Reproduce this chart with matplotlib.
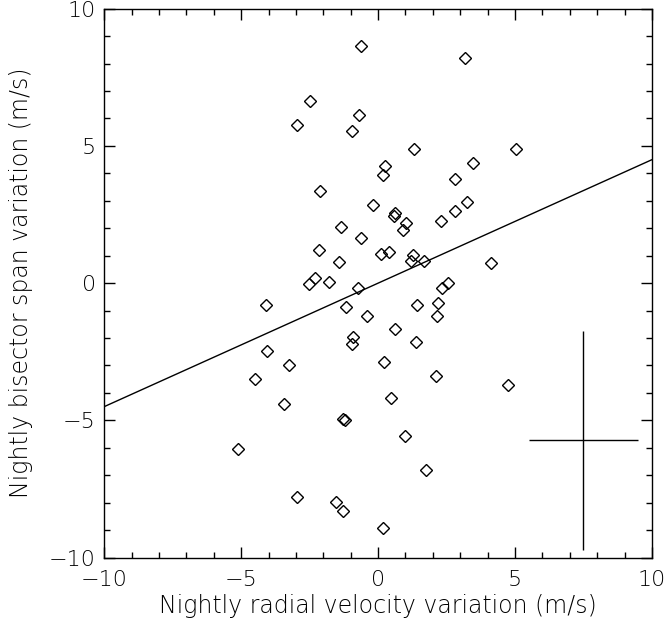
import numpy as np
import matplotlib.pyplot as plt

# nightly variations (m/s)
rv = np.array([-0.63, 3.18, -2.48, -0.68, -2.97, -0.96, 1.31, 5.04, 3.45, 0.26,
               0.19, 2.81, -2.12, 3.26, -0.19, 2.82, 0.63, 0.58, 2.29, 1.01,
               -1.36, 0.92, -0.61, -2.14, 0.41, 0.11, 1.27, 1.19, 1.69, -1.43,
               4.12, -2.32, -1.81, -2.54, 2.54, 2.35, -0.72, -4.10, 2.20, 1.43,
               -1.18, -0.39, 2.16, 0.63, -0.90, 1.39, -0.96, -4.04, 0.22, -3.24,
               2.12, -4.50, 4.76, 0.47, -3.45, -1.27, -1.22, 0.97, -5.11, 1.74,
               -2.97, -1.54, -1.29, 0.19])
bis = np.array([8.65, 8.22, 6.64, 6.13, 5.76, 5.55, 4.89, 4.89, 4.37, 4.28,
                3.95, 3.78, 3.36, 2.96, 2.85, 2.62, 2.54, 2.45, 2.27, 2.20,
                2.06, 1.93, 1.63, 1.20, 1.14, 1.08, 1.01, 0.81, 0.80, 0.77,
                0.74, 0.17, 0.05, -0.04, -0.01, -0.16, -0.16, -0.78, -0.74, -0.80,
                -0.86, -1.18, -1.20, -1.67, -1.96, -2.13, -2.20, -2.48, -2.87, -2.99,
                -3.39, -3.48, -3.71, -4.17, -4.39, -4.96, -4.97, -5.57, -6.03, -6.81,
                -7.81, -7.96, -8.32, -8.94])

slope = 0.45
fit_x = np.array([-10, 10])

# typical error bar
err_x, err_y = 7.5, -5.73
err_dx, err_dy = 2.0, 4.0

plt.rcParams['font.weight'] = 'light'
plt.rcParams['axes.labelweight'] = 'light'

fig = plt.figure(figsize=(6.68, 6.23), dpi=100)
ax = fig.add_axes([0.156, 0.105, 0.82, 0.881])

ax.plot(rv, bis, 'D', ms=6.4, mfc='none', mec='black', mew=1.0, ls='none')
ax.plot(fit_x, slope * fit_x, color='black', lw=1.0)
ax.errorbar(err_x, err_y, xerr=err_dx, yerr=err_dy, fmt='none', ecolor='black',
            elinewidth=1.0, capsize=0)

ax.set_xlim(-10, 10)
ax.set_ylim(-10, 10)
ax.set_xticks([-10, -5, 0, 5, 10])
ax.set_yticks([-10, -5, 0, 5, 10])
ax.set_xticks(np.arange(-10, 11, 1), minor=True)
ax.set_yticks(np.arange(-10, 11, 1), minor=True)
ax.tick_params(which='both', direction='in', top=True, right=True, width=1.0,
               labelsize=16, colors='black')
ax.tick_params(axis='x', pad=9)
ax.tick_params(axis='y', pad=6)
ax.tick_params(which='major', length=8)
ax.tick_params(which='minor', length=4.5)
for s in ax.spines.values():
    s.set_linewidth(1.0)

ax.set_xlabel('Nightly radial velocity variation (m/s)', fontsize=17)
ax.set_ylabel('Nightly bisector span variation (m/s)', fontsize=17)
ax.xaxis.set_label_coords(0.5, -0.066)
ax.yaxis.set_label_coords(-0.13, 0.5)

fig.savefig('out.png', dpi=100)
